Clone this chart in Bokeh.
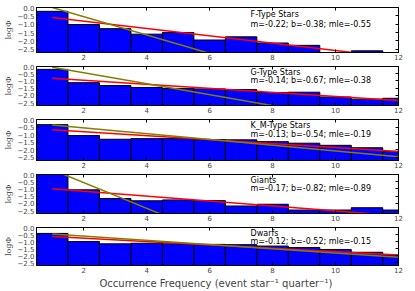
from bokeh.plotting import figure
from bokeh.layouts import column
from bokeh.models import FixedTicker, Label, Range1d, LinearAxis, CustomLabelingPolicy
from bokeh.embed import file_html
from bokeh.resources import INLINE

# ---------------- data ----------------
bin_centers = [1, 2, 3, 4, 5, 6, 7, 8, 9, 10, 11, 12]
panel_titles = ["F-Type Stars", "G-Type Stars", "K_M-Type Stars", "Giants", "Dwarfs"]
nan = float("nan")
f_type = [-0.23, -1.02, -1.27, -1.60, -1.50, -1.95, -1.76, -2.13, -2.27, nan, -2.60, nan]
g_type = [-0.20, -1.12, -1.32, -1.45, -1.52, -1.55, -1.60, -1.80, -1.78, -2.11, -2.26, -2.20]
km_type = [-0.34, -1.06, -1.30, -1.26, -1.26, -1.32, -1.34, -1.46, -1.56, -1.70, -1.86, -2.10]
giants = [0.0, -1.06, -1.66, -1.82, -1.76, -1.81, -2.18, -2.06, -2.46, -2.46, -2.30, -2.46]
dwarfs = [-0.42, -1.00, -1.16, -1.12, -1.16, -1.20, -1.22, -1.32, -1.42, -1.56, -1.76, -1.96]
fit_m = [-0.22, -0.14, -0.13, -0.17, -0.12]
fit_b = [-0.38, -0.67, -0.54, -0.82, -0.52]
mle_slope = [-0.55, -0.38, -0.19, -0.89, -0.15]
mle_start = [0.0, -0.05, -0.36, 0.33, -0.46]
fit_x = [1, 12]
x_ticks = [2, 4, 6, 8, 10, 12]
y_ticks = [0.0, -0.5, -1.0, -1.5, -2.0, -2.5]
y_tick_labels = ["0.0", "\u22120.5", "\u22121.0", "\u22121.5", "\u22122.0", "\u22122.5"]
x_label = "Occurrence Frequency (event star\u207b\u00b9  quarter\u207b\u00b9)"
y_label = "log\u03a6"

series = [f_type, g_type, km_type, giants, dwarfs]

# layout per panel: (height, top border, bottom border)
panel_geom = [(62, 7, 10), (53, 0, 8), (55, 0, 10), (53, 0, 8), (68, 0, 23)]

TICK_FONT = "7px"
no_labels = CustomLabelingPolicy(code="return new Set()")


def mirror_axis(ticks):
    return LinearAxis(ticker=FixedTicker(ticks=ticks), major_tick_in=3, major_tick_out=0,
                      minor_tick_in=0, minor_tick_out=0, major_label_text_font_size="1px",
                      major_label_standoff=0, major_label_policy=no_labels,
                      axis_line_color="black")


figs = []
for i in range(5):
    last = (i == 4)
    h, bt, bb = panel_geom[i]
    p = figure(width=415, height=h, x_range=Range1d(0.5, 12), y_range=Range1d(-2.7, 0),
               output_backend="svg", toolbar_location=None,
               min_border_left=35, min_border_right=17, min_border_top=bt, min_border_bottom=bb,
               background_fill_color="white", border_fill_color="white")
    p.xgrid.visible = False
    p.ygrid.visible = False
    p.outline_line_color = "black"
    p.outline_line_width = 1

    p.vbar(x=bin_centers, top=series[i], bottom=-3, width=1,
           fill_color="#0000ff", line_color="black", line_width=1)
    p.line(fit_x, [fit_m[i] * x + fit_b[i] for x in fit_x], line_color="#ff0000", line_width=1.5)
    p.line(fit_x, [mle_start[i] + mle_slope[i] * (x - 1) for x in fit_x],
           line_color="#808000", line_width=1.5)

    xa = p.xaxis[0]
    xa.ticker = FixedTicker(ticks=x_ticks)
    xa.major_tick_in = 3
    xa.major_tick_out = 0
    xa.minor_tick_in = 0
    xa.minor_tick_out = 0
    xa.major_label_text_font = "DejaVu Sans"
    xa.major_label_text_font_size = TICK_FONT
    xa.major_label_standoff = 1
    xa.axis_line_color = "black"
    if last:
        xa.axis_label = x_label
        xa.axis_label_text_font = "DejaVu Sans"
        xa.axis_label_text_font_style = "normal"
        xa.axis_label_text_font_size = "10px"
        xa.axis_label_standoff = 2

    ya = p.yaxis[0]
    ya.ticker = FixedTicker(ticks=y_ticks)
    ya.major_label_overrides = {t: s for t, s in zip(y_ticks, y_tick_labels)}
    ya.major_tick_in = 3
    ya.major_tick_out = 0
    ya.minor_tick_in = 0
    ya.minor_tick_out = 0
    ya.major_label_text_font = "DejaVu Sans"
    ya.major_label_text_font_size = TICK_FONT
    ya.major_label_standoff = 2
    ya.axis_label = y_label
    ya.axis_label_text_font = "DejaVu Serif"
    ya.axis_label_text_font_style = "normal"
    ya.axis_label_text_font_size = "8px"
    ya.axis_label_standoff = 2

    p.add_layout(mirror_axis(x_ticks), "above")
    p.add_layout(mirror_axis(y_ticks), "right")

    p.add_layout(Label(x=7.3, y=-0.42, text=panel_titles[i], text_font="DejaVu Sans",
                       text_font_size="8px", text_color="black", text_baseline="alphabetic"))
    p.add_layout(Label(x=7.3, y=-1.0,
                       text=f"m={fit_m[i]:.2f}; b={fit_b[i]:.2f}; mle={mle_slope[i]:.2f}",
                       text_font="DejaVu Sans", text_font_size="8px", text_color="black",
                       text_baseline="alphabetic"))
    figs.append(p)

layout = column(*figs, spacing=0)
open("out.html", "w").write(file_html(layout, INLINE))
